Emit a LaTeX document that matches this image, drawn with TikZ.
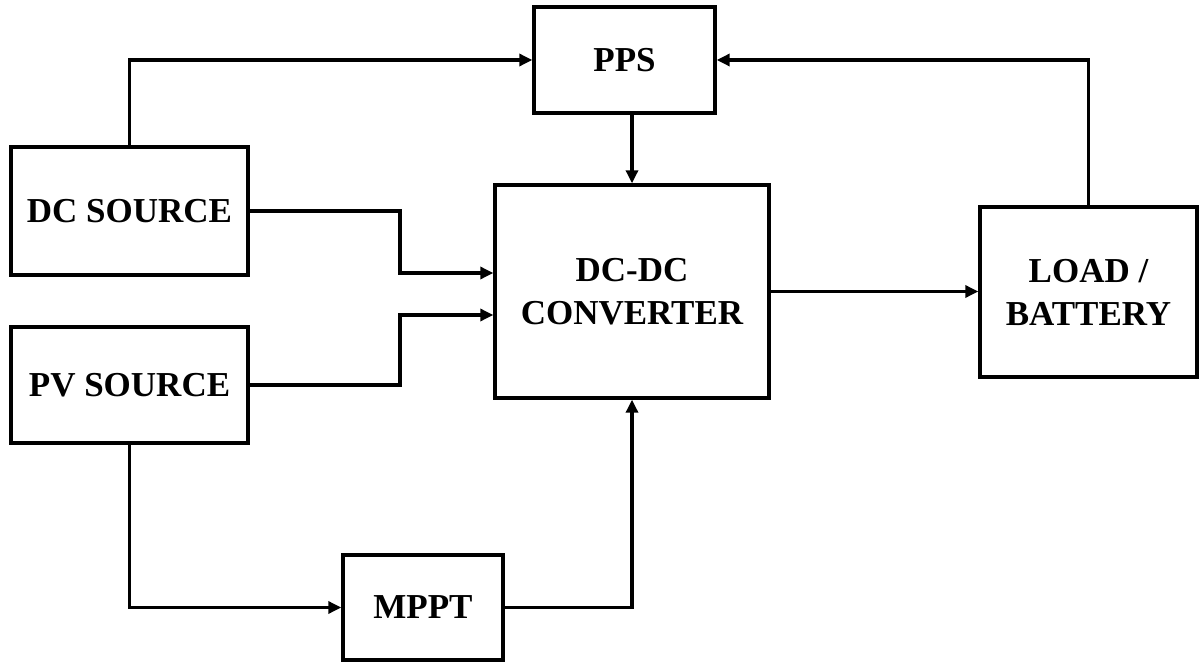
\documentclass[tikz,border=0pt]{standalone}
\usepackage{fontspec}
\setmainfont{Liberation Serif}
\usetikzlibrary{arrows.meta}
\begin{document}
\begin{tikzpicture}[x=1pt,y=-1pt,
  blk/.style={draw,line width=3.4pt,rectangle,inner sep=0pt,align=center,
    font=\fontsize{35}{43}\selectfont\bfseries},
  conn/.style={line width=3.2pt,-{Triangle[length=13pt,width=12pt]}}]
\useasboundingbox (0,0) rectangle (1200,663);
\node[blk,minimum width=237pt,minimum height=128pt] (dc) at (129.5,211) {DC SOURCE};
\node[blk,minimum width=237pt,minimum height=116pt] (pv) at (129.5,385) {PV SOURCE};
\node[blk,minimum width=181pt,minimum height=106pt] (pps) at (624.5,60) {PPS};
\node[blk,minimum width=274pt,minimum height=213pt] (conv) at (632,291.5) {DC-DC\\CONVERTER};
\node[blk,minimum width=217pt,minimum height=170pt] (load) at (1088.5,292) {LOAD /\\BATTERY};
\node[blk,minimum width=160pt,minimum height=105pt] (mppt) at (423,607.5) {MPPT};
\coordinate (c1) at (400,273);
\coordinate (c2) at (400,315);
\draw[conn] (dc.north) |- (pps.west);
\draw[conn] (pps.south -| conv.north) -- (conv.north);
\draw[conn] (dc.east) -| (c1) -- (c1 -| conv.west);
\draw[conn] (pv.east) -| (c2) -- (c2 -| conv.west);
\draw[conn] (conv.east) -- (conv.east -| load.west);
\draw[conn] (load.north) |- (pps.east);
\draw[conn] (pv.south) |- (mppt.west);
\draw[conn] (mppt.east) -| (conv.south);
\end{tikzpicture}
\end{document}
